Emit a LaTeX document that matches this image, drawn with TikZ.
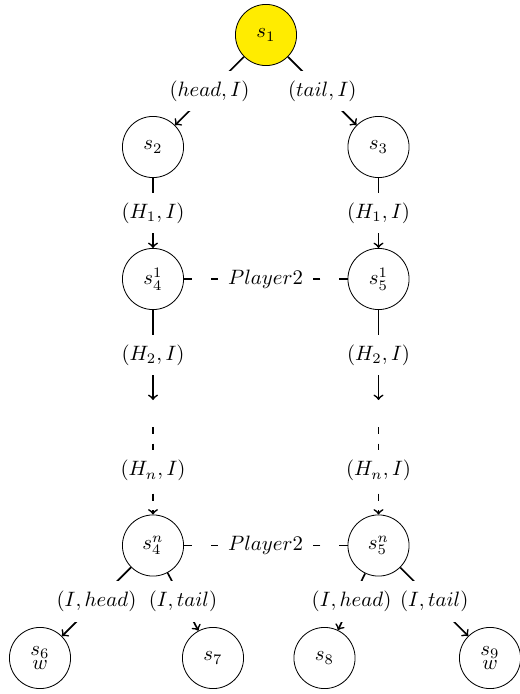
\documentclass[tikz,border=0pt]{standalone}
\definecolor{syellow}{RGB}{255,236,0}
\begin{document}
\begin{tikzpicture}[x=0.4808pt,y=-0.4808pt,
  state/.style={circle,draw,line width=0.4pt,minimum size=29.4pt,inner sep=0pt},
  edge/.style={thick,->},
  lbl/.style={fill=white,inner sep=4.8pt},
  dedge/.style={thick,->,dash pattern=on 3.5pt off 4.5pt},
  pline/.style={thick,dash pattern=on 4pt off 9pt},
  plbl/.style={inner sep=4.8pt}]
\useasboundingbox (0,0) rectangle (519,694);
% nodes
\node[state,fill=syellow] (s1) at (266,35) {$s_1$};
\node[state] (s2) at (153,147) {$s_2$};
\node[state] (s3) at (378.5,147) {$s_3$};
\node[state] (s41) at (153,279) {$s_4^1$};
\node[state] (s51) at (378.5,279) {$s_5^1$};
\coordinate (a1) at (153,400);
\coordinate (b1) at (378.5,400);
\coordinate (a2) at (153,427);
\coordinate (b2) at (378.5,427);
\node[state] (s4n) at (153,545.5) {$s_4^n$};
\node[state] (s5n) at (378.5,545.5) {$s_5^n$};
\node[state,align=center] (s6) at (40,658) {$s_6$\\[-5.2pt]$w$};
\node[state] (s7) at (213,658) {$s_7$};
\node[state] (s8) at (324.5,658) {$s_8$};
\node[state,align=center] (s9) at (490,658) {$s_9$\\[-5.2pt]$w$};
\node[plbl] (p1) at (265.5,279) {$Player2$};
\node[plbl] (pn) at (265.5,545.5) {$Player2$};
% edges
\draw[edge] (s1) -- node[lbl] {$(head,I)$} (s2);
\draw[edge] (s1) -- node[lbl] {$(tail,I)$} (s3);
\draw[edge] (s2) -- node[lbl] {$(H_1,I)$} (s41);
\draw[edge] (s3) -- node[lbl] {$(H_1,I)$} (s51);
\draw[edge] (s41) -- node[lbl] {$(H_2,I)$} (a1);
\draw[edge] (s51) -- node[lbl] {$(H_2,I)$} (b1);
\draw[dedge] (a2) -- node[lbl] {$(H_n,I)$} (s4n);
\draw[dedge] (b2) -- node[lbl] {$(H_n,I)$} (s5n);
\draw[edge] (s4n) -- node[lbl] {$(I,head)$} (s6);
\draw[edge] (s4n) -- node[lbl] {$(I,tail)$} (s7);
\draw[edge] (s5n) -- node[lbl] {$(I,head)$} (s8);
\draw[edge] (s5n) -- node[lbl] {$(I,tail)$} (s9);
% player lines
\draw[pline] (s41) -- (p1);
\draw[pline] (s51) -- (p1);
\draw[pline] (s4n) -- (pn);
\draw[pline] (s5n) -- (pn);
\end{tikzpicture}
\end{document}
